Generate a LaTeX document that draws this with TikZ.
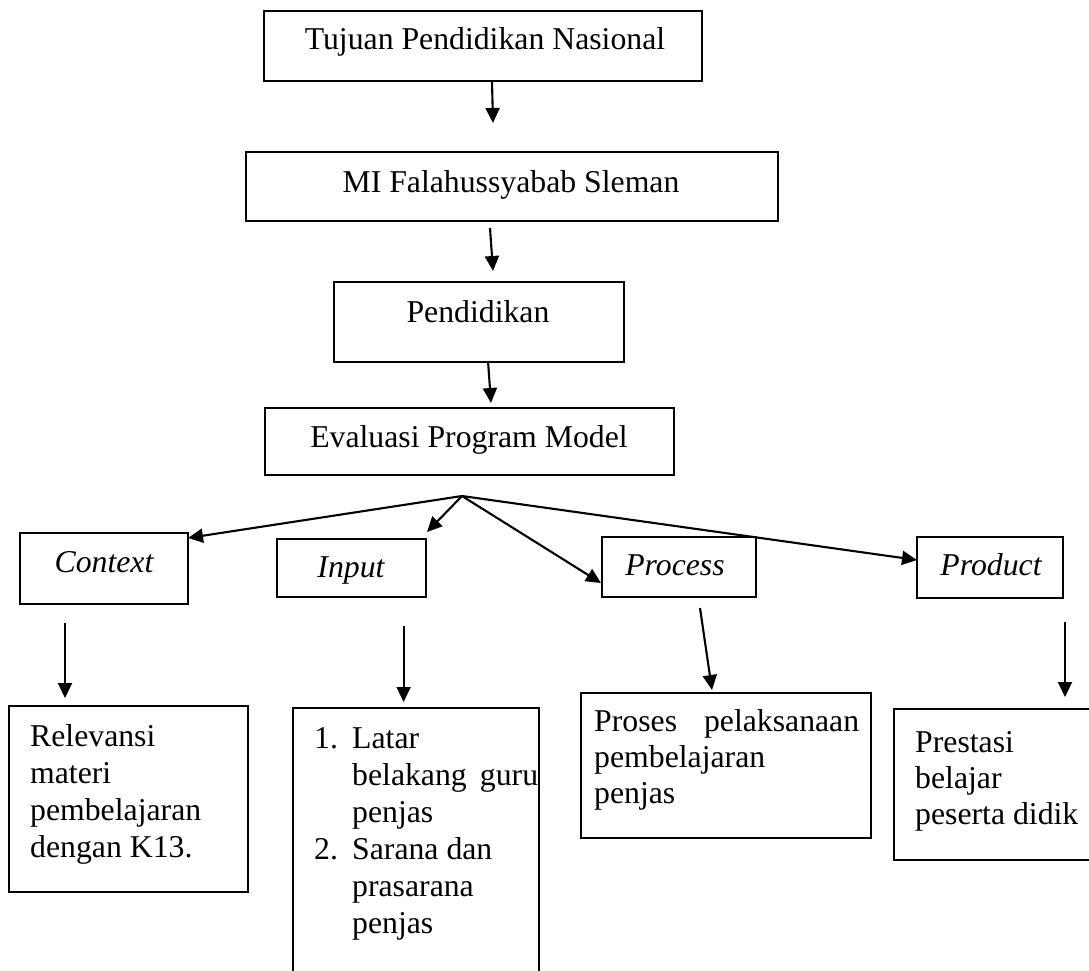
\documentclass[tikz,border=0pt]{standalone}
\usepackage{fontspec}
\setmainfont{Liberation Serif}
\usetikzlibrary{arrows.meta}
\tikzset{
  box/.style={draw, line width=2pt, inner sep=0pt, rectangle},
  txt/.style={inner sep=0pt, font=\fontsize{31.75}{37}\selectfont, align=left},
  itxt/.style={txt, font=\fontsize{31.75}{37}\selectfont\itshape},
  arr/.style={line width=2.1pt, -{Triangle[length=15pt,width=14pt]}},
}
\begin{document}
\begin{tikzpicture}[x=1pt,y=-1pt]
\clip (0,0) rectangle (1089,971);
\fill[white] (0,0) rectangle (1089,971);
% boxes
\node[box, minimum width=438, minimum height=70] (tujuan) at (483,46) {};
\node[box, minimum width=532, minimum height=69] (mi) at (512,186.5) {};
\node[box, minimum width=290, minimum height=80] (pend) at (479,322) {};
\node[box, minimum width=409, minimum height=67] (eval) at (469.5,441.5) {};
\node[box, minimum width=168, minimum height=71] (ctx) at (104,568.5) {};
\node[box, minimum width=149, minimum height=58] (inp) at (351.5,568) {};
\node[box, minimum width=154, minimum height=60] (proc) at (679,567) {};
\node[box, minimum width=146, minimum height=61] (prod) at (990,567.5) {};
\node[box, minimum width=239, minimum height=186] (rel) at (128,799) {};
\node[box, minimum width=246, minimum height=292] (list) at (416,854) {};
\node[box, minimum width=290, minimum height=145] (proses) at (726,765.5) {};
\node[box, minimum width=206, minimum height=151] (prest) at (997,784.5) {};
% texts
\node[txt, anchor=base] (t1) at (485,50) {Tujuan Pendidikan Nasional};
\node[txt, anchor=base] (t2) at (511,192) {MI Falahussyabab Sleman};
\node[txt, anchor=base] (t3) at (478,322) {Pendidikan};
\node[txt, anchor=base] (t4) at (469,447) {Evaluasi Program Model};
\node[itxt, anchor=base] (t5) at (104,572) {Context};
\node[itxt, anchor=base] (t6) at (351,577) {Input};
\node[itxt, anchor=base] (t7) at (675,575) {Process};
\node[itxt, anchor=base] (t8) at (991,575) {Product};
% multi-line texts: base anchor = last line
\node[txt, anchor=base west] (t9) at (30,857) {Relevansi\\materi\\pembelajaran\\dengan K13.};
\node[txt, anchor=base west] (t10) at (314,933) {\makebox[38pt][l]{1.}Latar\\
\hspace*{38pt}\makebox[186pt][s]{belakang guru}\\
\hspace*{38pt}penjas\\
\makebox[38pt][l]{2.}Sarana dan\\
\hspace*{38pt}prasarana\\
\hspace*{38pt}penjas};
\node[txt, anchor=base west, font=\fontsize{31.75}{36}\selectfont] (t11) at (594,803) {\makebox[265pt][s]{Proses pelaksanaan}\\pembelajaran\\penjas};
\node[txt, anchor=base west, font=\fontsize{31.75}{36}\selectfont] (t12) at (915,824) {Prestasi\\belajar\\peserta didik};
% connector points
\coordinate (a1s) at (492,81);  \coordinate (a1e) at (493,123);
\coordinate (a2s) at (490,228); \coordinate (a2e) at (493,271);
\coordinate (a3s) at (488,361); \coordinate (a3e) at (491,403);
\coordinate (fan) at (462,496);
\coordinate (fctx) at (188,538);
\coordinate (finp) at (427,532);
\coordinate (fproc) at (601,583);
\coordinate (fprod) at (917,560);
\coordinate (c1s) at (65,623);   \coordinate (c1e) at (65,698);
\coordinate (c2s) at (403.6,626);  \coordinate (c2e) at (403.6,702);
\coordinate (c3s) at (700,608);  \coordinate (c3e) at (712,690);
\coordinate (c4s) at (1065,622); \coordinate (c4e) at (1065,697);
% connectors
\draw[arr] (a1s) -- (a1e);
\draw[arr] (a2s) -- (a2e);
\draw[arr] (a3s) -- (a3e);
\draw[arr] (fan) -- (fctx);
\draw[arr] (fan) -- (finp);
\draw[arr] (fan) -- (fproc);
\draw[arr] (fan) -- (fprod);
\draw[arr] (c1s) -- (c1e);
\draw[arr] (c2s) -- (c2e);
\draw[arr] (c3s) -- (c3e);
\draw[arr] (c4s) -- (c4e);
\end{tikzpicture}
\end{document}
